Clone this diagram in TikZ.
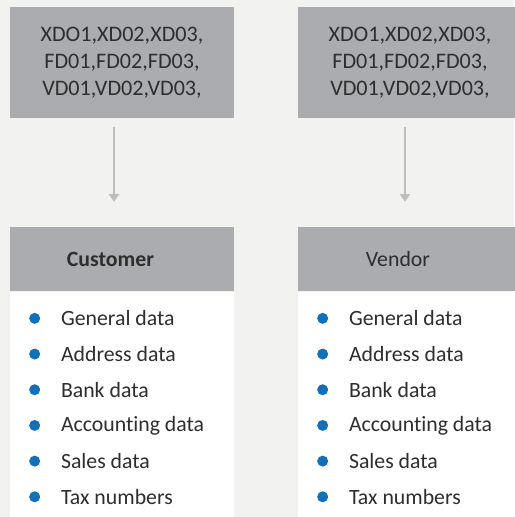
\documentclass[tikz,border=0pt]{standalone}
\usepackage{fontspec}
\setmainfont[Ligatures=NoCommon]{Carlito}
\usetikzlibrary{positioning,arrows.meta}
\definecolor{pagebg}{HTML}{F2F2F0}
\definecolor{boxgrey}{HTML}{AAACAF}
\definecolor{arrowgrey}{HTML}{BDBDBD}
\definecolor{dotblue}{HTML}{1170B8}
\definecolor{textdark}{HTML}{2E2E2E}
\tikzset{>={Triangle[width=0.2cm,length=0.15cm]}}
\tikzset{
  codebox/.style={fill=boxgrey,minimum width=4.48cm,minimum height=2.22cm,
    align=center,text=textdark,font=\fontsize{12.6}{15.3}\selectfont,inner sep=0pt},
  headbox/.style={fill=boxgrey,minimum width=4.48cm,minimum height=1.28cm,inner sep=0pt},
  listbox/.style={fill=white,minimum width=4.48cm,minimum height=4.8cm,inner sep=0pt,anchor=north},
  headtext/.style={text=textdark,font=\fontsize{12.4}{15}\selectfont,inner sep=0pt},
  itemtext/.style={text=textdark,font=\fontsize{12.4}{15}\selectfont,anchor=west,inner sep=0pt},
  flow/.style={->,arrowgrey,line width=0.04cm,shorten <=0.18cm,shorten >=0.5cm}
}
\newcommand\itemlist[2]{% #1 = list node, #2 = prefix
  \foreach \entry [count=\i] in {General data,Address data,Bank data,Accounting data,Sales data,Tax numbers}{
    \fill[dotblue] ([xshift=0.5cm,yshift={-0.54cm-(\i-1)*0.714cm}]#1.north west) circle (0.11cm);
    \node[itemtext] (#2\i) at ([xshift=1.02cm,yshift={-0.54cm-(\i-1)*0.714cm}]#1.north west) {\entry};
  }
}

\begin{document}
\begin{tikzpicture}[x=0.02cm,y=-0.02cm]
  \fill[pagebg] (0,0) rectangle (514,517);
  \useasboundingbox (0,0) rectangle (514,517);
  % top code boxes
  \node[codebox] (codescust) at (122,62.5) {XDO1,XD02,XD03,\\FD01,FD02,FD03,\\VD01,VD02,VD03,};
  \node[codebox] (codesvend) at (410,62.5) {XDO1,XD02,XD03,\\FD01,FD02,FD03,\\VD01,VD02,VD03,};
  % headers
  \node[headbox] (cust) at (122,259) {};
  \node[headbox] (vend) at (410,259) {};
  \node[headtext,font=\fontsize{12.4}{15}\selectfont\bfseries] (custlabel) at ([xshift=-0.23cm]cust.center) {Customer};
  \node[headtext] (vendlabel) at ([xshift=-0.24cm]vend.center) {Vendor};
  % lists
  \node[listbox] (custlist) at (cust.south) {};
  \node[listbox] (vendlist) at (vend.south) {};
  \itemlist{custlist}{c}
  \itemlist{vendlist}{v}
  % arrows
  \draw[flow] ([xshift=-0.16cm]codescust.south) -- ([xshift=-0.16cm]cust.north);
  \draw[flow] ([xshift=-0.1cm]codesvend.south) -- ([xshift=-0.1cm]vend.north);
\end{tikzpicture}
\end{document}
